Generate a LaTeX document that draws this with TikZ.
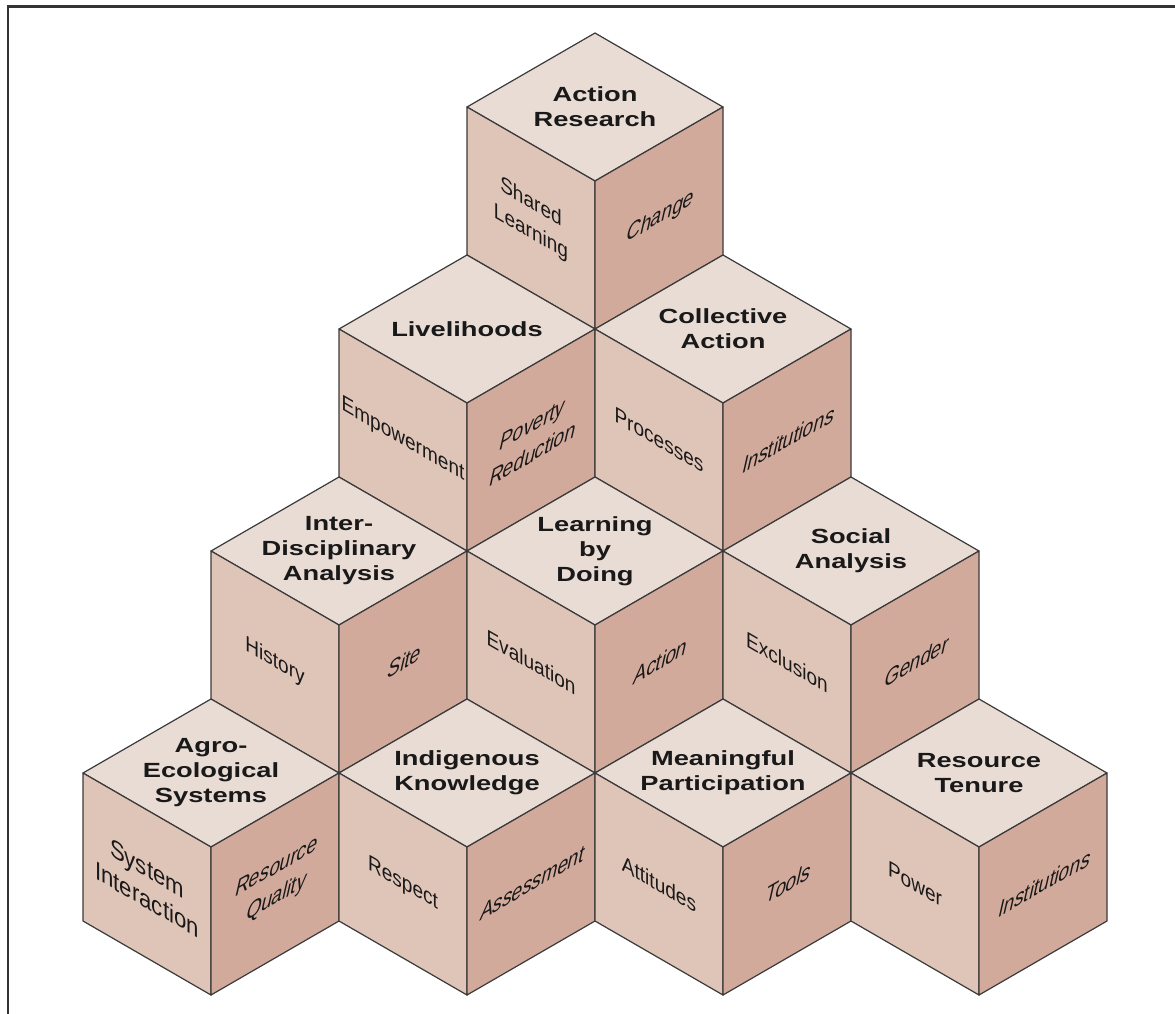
\documentclass[tikz,border=0pt]{standalone}
\usepackage{fontspec}
\setmainfont{Liberation Sans}
\newfontfamily\headfont[FakeStretch=1.33]{Liberation Sans}
\newfontfamily\slantfont[FakeSlant=0.3]{Liberation Sans}
\usetikzlibrary{calc}

\definecolor{topfill}{HTML}{E9DCD5}
\definecolor{leftfill}{HTML}{DFC4B8}
\definecolor{rightfill}{HTML}{D2AA9C}
\definecolor{edge}{HTML}{3A3A3A}

\begin{document}
\begin{tikzpicture}[
  x=0.5pt, y=-0.5pt,
  topface/.style={fill=topfill, draw=edge, line width=0.6pt, line join=round},
  leftface/.style={fill=leftfill, draw=edge, line width=0.6pt, line join=round},
  rightface/.style={fill=rightfill, draw=edge, line width=0.6pt, line join=round},
  toplabel/.style={font=\headfont\bfseries\fontsize{10.25}{12.5}\selectfont, align=center, inner sep=0pt, text=black!90},
  leftlabel/.style={font=\fontsize{11}{15}\selectfont, align=center, inner sep=0pt, text=black!90, cm={0.866,-0.5,0,1,(0,0)}},
  rightlabel/.style={font=\slantfont\fontsize{11}{15}\selectfont, align=center, inner sep=0pt, text=black!90, cm={0.866,0.5,0,1,(0,0)}},
  biglabel/.style={font=\fontsize{12.8}{15.5}\selectfont},
  frame/.style={draw=black!80, line width=1.2pt},
]
\useasboundingbox (0,0) rectangle (1175,1014);

% Frame
\draw[frame] (8,1014) -- (8,6.5) -- (1175,6.5);

% Cube corners
\coordinate (ar)  at (595,181);
\coordinate (lh)  at (467,403);
\coordinate (ca)  at (723,403);
\coordinate (ida) at (339,625);
\coordinate (lbd) at (595,625);
\coordinate (sa)  at (851,625);
\coordinate (aes) at (211,847);
\coordinate (ik)  at (467,847);
\coordinate (mp)  at (723,847);
\coordinate (rt)  at (979,847);

% Action Research
\draw[topface]   (ar) -- ++(-128,-74) -- ++(128,-74) -- ++(128,74) -- cycle;
\draw[leftface]  (ar) -- ++(-128,-74) -- ++(0,148) -- ++(128,74) -- cycle;
\draw[rightface] (ar) -- ++(128,-74) -- ++(0,148) -- ++(-128,74) -- cycle;
\node[toplabel]   (arTop)   at ($(ar)+(0,-74)$) {Action\\Research};
\node[leftlabel]  (arLeft)  at ($(ar)+(-64,37)$) {Shared\\Learning};
\node[rightlabel] (arRight) at ($(ar)+(64,37)$) {Change};

% Livelihoods
\draw[topface]   (lh) -- ++(-128,-74) -- ++(128,-74) -- ++(128,74) -- cycle;
\draw[leftface]  (lh) -- ++(-128,-74) -- ++(0,148) -- ++(128,74) -- cycle;
\draw[rightface] (lh) -- ++(128,-74) -- ++(0,148) -- ++(-128,74) -- cycle;
\node[toplabel]   (lhTop)   at ($(lh)+(0,-74)$) {Livelihoods};
\node[leftlabel]  (lhLeft)  at ($(lh)+(-64,37)$) {Empowerment};
\node[rightlabel] (lhRight) at ($(lh)+(64,37)$) {Poverty\\Reduction};

% Collective Action
\draw[topface]   (ca) -- ++(-128,-74) -- ++(128,-74) -- ++(128,74) -- cycle;
\draw[leftface]  (ca) -- ++(-128,-74) -- ++(0,148) -- ++(128,74) -- cycle;
\draw[rightface] (ca) -- ++(128,-74) -- ++(0,148) -- ++(-128,74) -- cycle;
\node[toplabel]   (caTop)   at ($(ca)+(0,-74)$) {Collective\\Action};
\node[leftlabel]  (caLeft)  at ($(ca)+(-64,37)$) {Processes};
\node[rightlabel] (caRight) at ($(ca)+(64,37)$) {Institutions};

% Inter-Disciplinary Analysis
\draw[topface]   (ida) -- ++(-128,-74) -- ++(128,-74) -- ++(128,74) -- cycle;
\draw[leftface]  (ida) -- ++(-128,-74) -- ++(0,148) -- ++(128,74) -- cycle;
\draw[rightface] (ida) -- ++(128,-74) -- ++(0,148) -- ++(-128,74) -- cycle;
\node[toplabel]   (idaTop)   at ($(ida)+(0,-74)$) {Inter-\\Disciplinary\\Analysis};
\node[leftlabel]  (idaLeft)  at ($(ida)+(-64,37)$) {History};
\node[rightlabel] (idaRight) at ($(ida)+(64,37)$) {Site};

% Learning by Doing
\draw[topface]   (lbd) -- ++(-128,-74) -- ++(128,-74) -- ++(128,74) -- cycle;
\draw[leftface]  (lbd) -- ++(-128,-74) -- ++(0,148) -- ++(128,74) -- cycle;
\draw[rightface] (lbd) -- ++(128,-74) -- ++(0,148) -- ++(-128,74) -- cycle;
\node[toplabel]   (lbdTop)   at ($(lbd)+(0,-74)$) {Learning\\by\\Doing};
\node[leftlabel]  (lbdLeft)  at ($(lbd)+(-64,37)$) {Evaluation};
\node[rightlabel] (lbdRight) at ($(lbd)+(64,37)$) {Action};

% Social Analysis
\draw[topface]   (sa) -- ++(-128,-74) -- ++(128,-74) -- ++(128,74) -- cycle;
\draw[leftface]  (sa) -- ++(-128,-74) -- ++(0,148) -- ++(128,74) -- cycle;
\draw[rightface] (sa) -- ++(128,-74) -- ++(0,148) -- ++(-128,74) -- cycle;
\node[toplabel]   (saTop)   at ($(sa)+(0,-74)$) {Social\\Analysis};
\node[leftlabel]  (saLeft)  at ($(sa)+(-64,37)$) {Exclusion};
\node[rightlabel] (saRight) at ($(sa)+(64,37)$) {Gender};

% Agro-Ecological Systems
\draw[topface]   (aes) -- ++(-128,-74) -- ++(128,-74) -- ++(128,74) -- cycle;
\draw[leftface]  (aes) -- ++(-128,-74) -- ++(0,148) -- ++(128,74) -- cycle;
\draw[rightface] (aes) -- ++(128,-74) -- ++(0,148) -- ++(-128,74) -- cycle;
\node[toplabel]   (aesTop)   at ($(aes)+(0,-74)$) {Agro-\\Ecological\\Systems};
\node[leftlabel, biglabel] (aesLeft) at ($(aes)+(-64,37)$) {System\\Interaction};
\node[rightlabel] (aesRight) at ($(aes)+(64,37)$) {Resource\\Quality};

% Indigenous Knowledge
\draw[topface]   (ik) -- ++(-128,-74) -- ++(128,-74) -- ++(128,74) -- cycle;
\draw[leftface]  (ik) -- ++(-128,-74) -- ++(0,148) -- ++(128,74) -- cycle;
\draw[rightface] (ik) -- ++(128,-74) -- ++(0,148) -- ++(-128,74) -- cycle;
\node[toplabel]   (ikTop)   at ($(ik)+(0,-74)$) {Indigenous\\Knowledge};
\node[leftlabel]  (ikLeft)  at ($(ik)+(-64,37)$) {Respect};
\node[rightlabel] (ikRight) at ($(ik)+(64,37)$) {Assessment};

% Meaningful Participation
\draw[topface]   (mp) -- ++(-128,-74) -- ++(128,-74) -- ++(128,74) -- cycle;
\draw[leftface]  (mp) -- ++(-128,-74) -- ++(0,148) -- ++(128,74) -- cycle;
\draw[rightface] (mp) -- ++(128,-74) -- ++(0,148) -- ++(-128,74) -- cycle;
\node[toplabel]   (mpTop)   at ($(mp)+(0,-74)$) {Meaningful\\Participation};
\node[leftlabel]  (mpLeft)  at ($(mp)+(-64,37)$) {Attitudes};
\node[rightlabel] (mpRight) at ($(mp)+(64,37)$) {Tools};

% Resource Tenure
\draw[topface]   (rt) -- ++(-128,-74) -- ++(128,-74) -- ++(128,74) -- cycle;
\draw[leftface]  (rt) -- ++(-128,-74) -- ++(0,148) -- ++(128,74) -- cycle;
\draw[rightface] (rt) -- ++(128,-74) -- ++(0,148) -- ++(-128,74) -- cycle;
\node[toplabel]   (rtTop)   at ($(rt)+(0,-74)$) {Resource\\Tenure};
\node[leftlabel]  (rtLeft)  at ($(rt)+(-64,37)$) {Power};
\node[rightlabel] (rtRight) at ($(rt)+(64,37)$) {Institutions};

\end{tikzpicture}
\end{document}
